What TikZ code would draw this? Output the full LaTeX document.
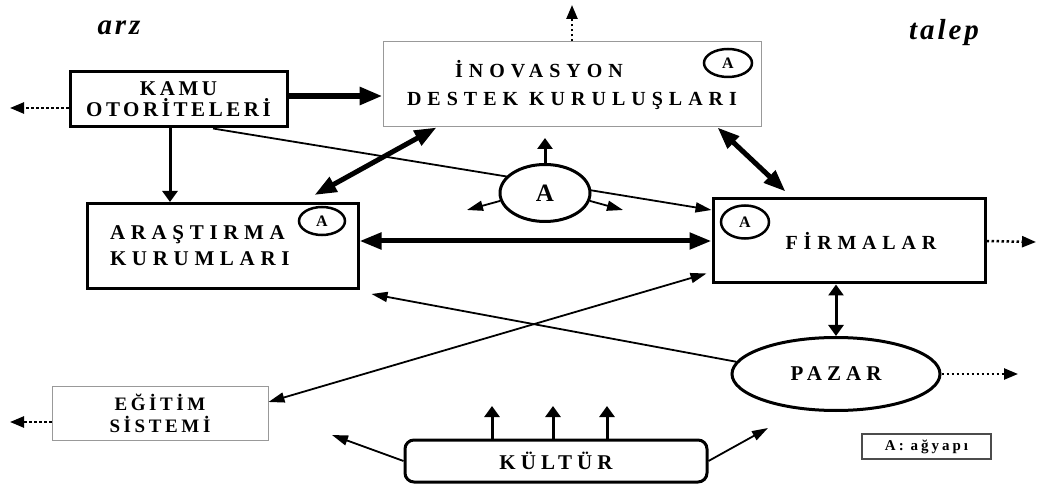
\documentclass[tikz,border=0pt]{standalone}
\usepackage{fontspec}
\setmainfont{Liberation Serif}
\usetikzlibrary{arrows.meta,shapes.geometric,calc}
\pgfdeclarelayer{bg}
\pgfsetlayers{bg,main}
\newcommand\lsf[3]{\fontsize{#1}{#2}\selectfont\bfseries\addfontfeature{LetterSpace=#3}}
\begin{document}
\begin{tikzpicture}[x=1pt,y=-1pt,
  thickbox/.style={draw, line width=3pt, inner sep=0pt, align=center},
  thinbox/.style={draw=black!40, line width=1pt, inner sep=0pt, align=center},
  smallA/.style={ellipse, draw, line width=2.5pt, inner sep=0pt, font=\lsf{16}{18}{0}},
  thinarr/.style={line width=1.8pt, -{Triangle[length=16pt,width=10pt]}},
  thindarr/.style={line width=1.8pt, {Triangle[length=16pt,width=10pt]}-{Triangle[length=16pt,width=10pt]}},
  medarr/.style={line width=3pt, -{Triangle[length=11pt,width=15pt]}},
  meddarr/.style={line width=3pt, {Triangle[length=11pt,width=15pt]}-{Triangle[length=11pt,width=15pt]}},
  bigarr/.style={line width=6pt, -{Triangle[length=23pt,width=17pt]}},
  bigdarr/.style={line width=5pt, {Triangle[length=22pt,width=16pt]}-{Triangle[length=22pt,width=16pt]}},
  dotarr/.style={line width=2.5pt, dash pattern=on 2.5pt off 2.5pt, -{Triangle[length=14pt,width=11pt]}}
]
\useasboundingbox (0,0) rectangle (1039,486);

% titles
\node[anchor=base, font={\fontsize{29}{32}\selectfont\bfseries\itshape\addfontfeature{LetterSpace=10}}] (arz) at (119,35) {arz};
\node[anchor=base, font={\fontsize{29}{32}\selectfont\bfseries\itshape\addfontfeature{LetterSpace=10}}] (talep) at (944,40) {talep};

% boxes
\node[thickbox, minimum width=217pt, minimum height=55pt, font=\lsf{21}{21}{17}] (kamu) at (178.5,99.5) {KAMU\\OTORİTELERİ};
\node[thinbox, minimum width=378pt, minimum height=85pt, font=\lsf{20}{28}{30}] (ino) at (572,84.5) {İNOVASYON\hspace*{66pt}\\DESTEK KURULUŞLARI};
\node[thickbox, minimum width=271pt, minimum height=85pt, font=\lsf{21}{26}{27}, text width=225pt, align=left, inner xsep=23pt] (ara) at (222.5,246) {ARAŞTIRMA\\KURUMLARI};
\node[thickbox, minimum width=272pt, minimum height=84pt, font=\lsf{20}{20}{29}] (firm) at (849,241) {\hspace*{24pt}FİRMALAR};
\node[thinbox, minimum width=216pt, minimum height=54pt, font=\lsf{19}{22}{19}] (egt) at (160,413) {EĞİTİM\\SİSTEMİ};
\node[ellipse, draw, line width=3pt, inner sep=0pt, minimum width=208pt, minimum height=73pt, font=\lsf{21}{22}{24}] (paz) at (836,374) {PAZAR};
\node[draw, rounded corners=9pt, line width=3pt, inner sep=0pt, minimum width=302pt, minimum height=42pt, font=\lsf{21}{22}{24}] (kult) at (556,461) {KÜLTÜR};
\node[draw=black!70, line width=1.5pt, inner sep=0pt, minimum width=129pt, minimum height=25pt, font=\lsf{15}{15}{20}] (leg) at (926.5,446.5) {A: ağyapı};

% network ellipses
\node[ellipse, draw, fill=white, line width=3pt, inner sep=0pt, minimum width=90pt, minimum height=57pt, font=\lsf{25}{26}{0}] (ag) at (545,193) {A};
\node[smallA, minimum width=48pt, minimum height=28pt] (inoA) at (728,63) {A};
\node[smallA, minimum width=46pt, minimum height=28pt] (araA) at (322,221) {A};
\node[smallA, minimum width=48pt, minimum height=33pt] (firmA) at (745,222) {A};

% free ends
\coordinate (kamuOut) at (10,108);
\coordinate (inoOut) at (572,5);
\coordinate (firmOut) at (1036,242);
\coordinate (pazOut) at (1018,374);
\coordinate (egtOut) at (10,422);
\coordinate (aUp) at (545,138);
\coordinate (aL) at (467,210);
\coordinate (aR) at (623,210);
\coordinate (kU1) at (492,406);
\coordinate (kU2) at (553,406);
\coordinate (kU3) at (607,406);
\coordinate (kL) at (332,435);
\coordinate (kR) at (768,428);

% helper points on nodes
\coordinate (kE) at ([yshift=3.5pt]kamu.east);
\coordinate (kS) at ([xshift=-8.5pt]kamu.south);

% connectors
\begin{pgfonlayer}{bg}
\draw[thinarr] ([xshift=34.5pt]kamu.south) -- ([yshift=31pt]firm.west);
\end{pgfonlayer}
\draw[bigarr] (kE) -- (kE -| ino.west);
\draw[dotarr] (kamu.west |- kamuOut) -- (kamuOut);
\draw[dotarr] (ino.north) -- (inoOut);
\draw[medarr] (kS) -- (kS |- ara.north);
\draw[bigdarr] ([xshift=54pt]ino.south west) -- ([shift={(-45pt,7pt)}]ara.north east);
\draw[bigdarr] ([xshift=-44pt]ino.south east) -- ([shift={(74pt,6pt)}]firm.north west);
\draw[bigdarr] (ara.east |- firm.west) -- (firm.west);
\draw[meddarr] (paz.north |- firm.south) -- (paz.north);
\draw[dotarr] (firm.east) -- (firmOut);
\draw[dotarr] (paz.east) -- (pazOut);
\draw[thinarr] (paz.173) -- ([shift={(12pt,-4pt)}]ara.south east);
\draw[thindarr] ([yshift=11pt]egt.east) -- ([shift={(-5pt,11pt)}]firm.south west);
\draw[dotarr] (egt.west |- egtOut) -- (egtOut);
\draw[medarr] (ag.north) -- (aUp);
\draw[thinarr] (ag.190) -- (aL);
\draw[thinarr] (ag.350) -- (aR);
\draw[medarr] (kult.north -| kU1) -- (kU1);
\draw[medarr] (kult.north -| kU2) -- (kU2);
\draw[medarr] (kult.north -| kU3) -- (kU3);
\draw[thinarr] (kult.west) -- (kL);
\draw[thinarr] (kult.east) -- (kR);
\end{tikzpicture}
\end{document}
